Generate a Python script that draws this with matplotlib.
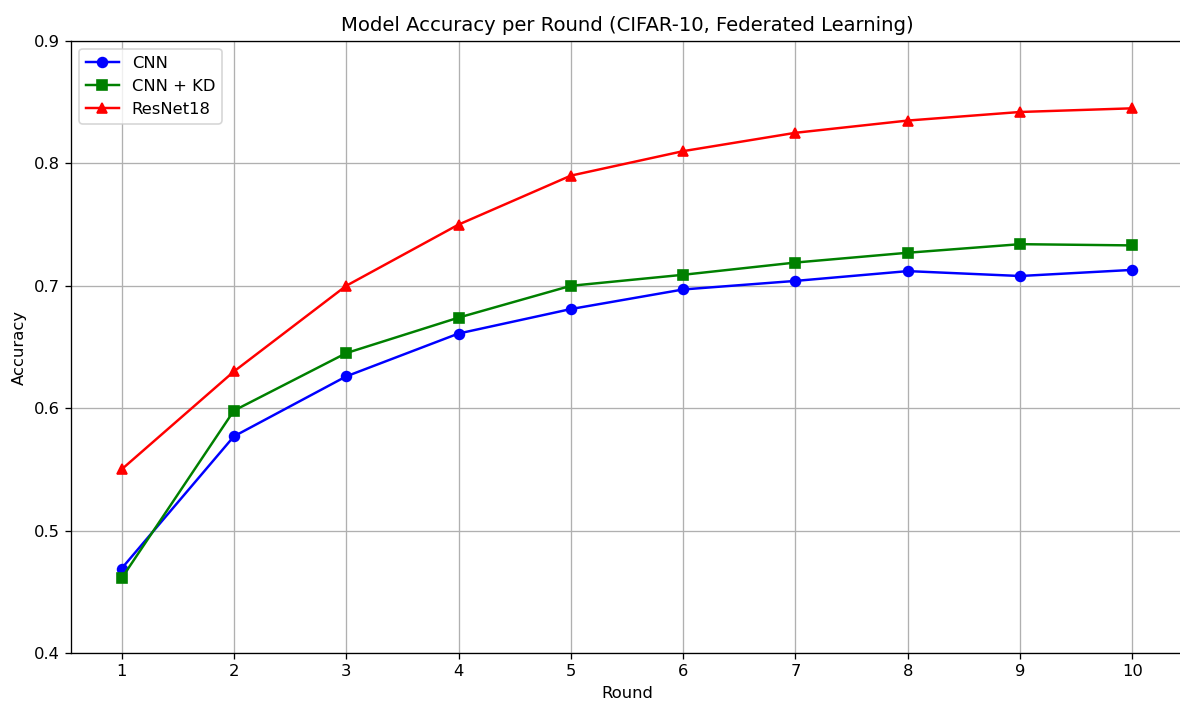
import numpy as np
import matplotlib.pyplot as plt

rounds = [1, 2, 3, 4, 5, 6, 7, 8, 9, 10]
acc_cnn = [0.469, 0.577, 0.626, 0.661, 0.681, 0.697, 0.704, 0.712, 0.708, 0.713]
acc_cnn_kd = [0.461, 0.598, 0.645, 0.674, 0.700, 0.709, 0.719, 0.727, 0.734, 0.733]
acc_resnet = [0.550, 0.630, 0.700, 0.750, 0.790, 0.810, 0.825, 0.835, 0.842, 0.845]

DPI = 118
fig, ax = plt.subplots(figsize=(1180 / DPI, 703 / DPI), dpi=DPI)

ax.plot(rounds, acc_cnn, marker='o', color='blue', label='CNN')
ax.plot(rounds, acc_cnn_kd, marker='s', color='green', label='CNN + KD')
ax.plot(rounds, acc_resnet, marker='^', color='red', label='ResNet18')

ax.set_title('Model Accuracy per Round (CIFAR-10, Federated Learning)')
ax.set_xlabel('Round')
ax.set_ylabel('Accuracy')
ax.set_xticks(rounds)
ax.set_ylim(0.4, 0.9)
ax.grid(True)
ax.legend(loc='upper left')

# the plot area runs slightly past the right edge of the saved image
fig.subplots_adjust(left=0.0602, right=1.0025, top=0.9417, bottom=0.0711)
fig.savefig('out.png', dpi=DPI)
